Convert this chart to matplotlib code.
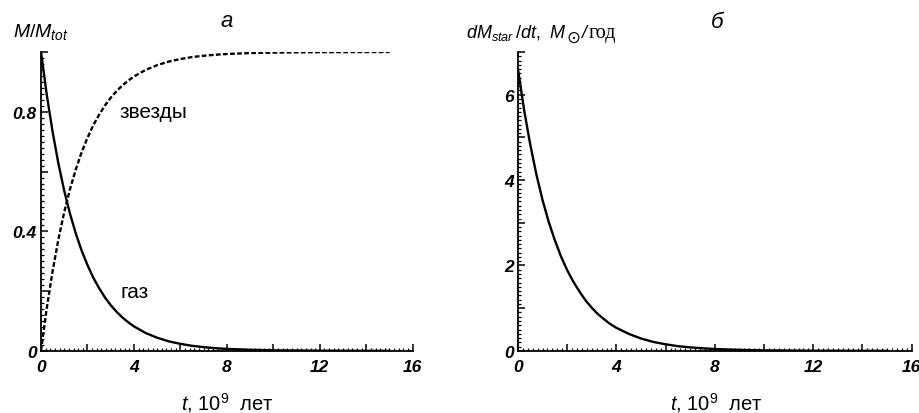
import matplotlib
matplotlib.use("Agg")
import matplotlib.pyplot as plt
from matplotlib.ticker import MultipleLocator

plt.rcParams["font.family"] = ["Liberation Sans", "DejaVu Sans"]
plt.rcParams["mathtext.fontset"] = "custom"
plt.rcParams["mathtext.it"] = "Liberation Sans:italic"
plt.rcParams["mathtext.rm"] = "Liberation Sans"

# время, 10^9 лет
t = [0, 0.25, 0.5, 0.75, 1, 1.25, 1.5, 1.75, 2, 2.25, 2.5, 2.75, 3, 3.25,
     3.5, 3.75, 4, 4.5, 5, 5.5, 6, 6.5, 7, 7.5, 8, 9, 10, 12, 15]
# доля газа
gas = [1.0, 0.855, 0.732, 0.626, 0.535, 0.458, 0.392, 0.335, 0.287, 0.245,
       0.210, 0.179, 0.153, 0.131, 0.112, 0.096, 0.082, 0.060, 0.044, 0.032,
       0.0235, 0.017, 0.0126, 0.0092, 0.0067, 0.0036, 0.0019, 0.0006, 0.0]
# доля звезд
stars = [0.0, 0.145, 0.268, 0.374, 0.465, 0.542, 0.608, 0.665, 0.713, 0.755,
         0.790, 0.821, 0.847, 0.869, 0.888, 0.904, 0.918, 0.940, 0.956, 0.968,
         0.9765, 0.983, 0.9874, 0.9908, 0.9933, 0.9964, 0.9981, 0.9994, 1.0]
# темп звездообразования, M_sun / год
sfr = [6.6, 5.64, 4.83, 4.13, 3.53, 3.02, 2.59, 2.21, 1.89, 1.62, 1.39,
       1.18, 1.01, 0.86, 0.74, 0.63, 0.54, 0.40, 0.29, 0.21, 0.155, 0.11,
       0.083, 0.061, 0.044, 0.024, 0.013, 0.004, 0.0]

x_ticks = [0, 2, 4, 6, 8, 10, 12, 14, 16]
x_labels = ["0", "", "4", "", "8", "", "12", "", "16"]
ya_ticks = [0, 0.2, 0.4, 0.6, 0.8, 1.0]
ya_labels = ["0", "", "0.4", "", "0.8", ""]
yb_ticks = [0, 1, 2, 3, 4, 5, 6, 7]
yb_labels = ["0", "", "2", "", "4", "", "6", ""]

W, H = 920, 414
fig = plt.figure(figsize=(W / 100, H / 100), dpi=100)
ax1 = fig.add_axes([0.0446, 0.150, 0.404, 0.722])
ax2 = fig.add_axes([0.563, 0.150, 0.428, 0.722])


def style(ax, yticks, ylabels, yminor):
    for s in ("top", "right"):
        ax.spines[s].set_visible(False)
    for s in ("left", "bottom"):
        ax.spines[s].set_linewidth(1.3)
    ax.set_xlim(0, 16)
    ax.set_xticks(x_ticks)
    ax.set_xticklabels(x_labels, fontstyle="italic", fontweight="bold", fontsize=12.5)
    ax.set_yticks(yticks)
    ax.set_yticklabels(ylabels, fontstyle="italic", fontweight="bold", fontsize=12.5)
    ax.xaxis.set_minor_locator(MultipleLocator(0.2))
    ax.yaxis.set_minor_locator(MultipleLocator(yminor))
    ax.tick_params(which="major", direction="in", length=5, width=1.1)
    ax.tick_params(which="minor", direction="in", length=2.3, width=0.9)
    ax.tick_params(axis="x", pad=6)
    ax.tick_params(axis="y", pad=3)


ax1.plot(t, gas, color="black", lw=1.7)
ax1.plot(t, stars, color="black", lw=1.7, linestyle=(0, (2, 1)))
ax1.set_ylim(0, 1.0)
style(ax1, ya_ticks, ya_labels, 0.02)
ax1.text(3.4, 0.8, "звезды", fontsize=15, va="center")
ax1.text(3.4, 0.2, "газ", fontsize=15, va="center")

ax2.plot(t, sfr, color="black", lw=1.7)
ax2.set_ylim(0, 7)
style(ax2, yb_ticks, yb_labels, 0.1)

# заголовки и подписи осей
fig.text(0.246, 0.935, "а", fontsize=16, fontstyle="italic", ha="center", va="baseline")
fig.text(0.779, 0.932, "б", fontsize=16, fontstyle="italic", ha="center", va="baseline")
fig.text(0.014, 0.911, r"$M/M_{tot}$", fontsize=14, va="baseline")
for xc in (0.247, 0.779):
    fig.text(xc, 0.01, r"$t$, 10$^9$  лет", fontsize=14.5, ha="center", va="baseline")

# подпись оси y справа собирается по частям
renderer = fig.canvas.get_renderer()
parts = [
    (r"$dM_{star}\,/dt,$", dict(fontsize=13), 0, 0),
    (r"$M$", dict(fontsize=13), 9, 0),
    ("\u2299", dict(fontsize=12, family="DejaVu Sans"), 0, -5),
    ("/", dict(fontsize=13, fontstyle="italic"), 1, 0),
    ("год", dict(fontsize=14.5, family="Liberation Serif"), 2, 0),
]
x = 466
for s, kw, dx, dy in parts:
    x += dx
    txt = fig.text(x / W, 0.909 + dy / H, s, va="baseline", **kw)
    x = txt.get_window_extent(renderer).x1

fig.savefig("out.png", dpi=100)
